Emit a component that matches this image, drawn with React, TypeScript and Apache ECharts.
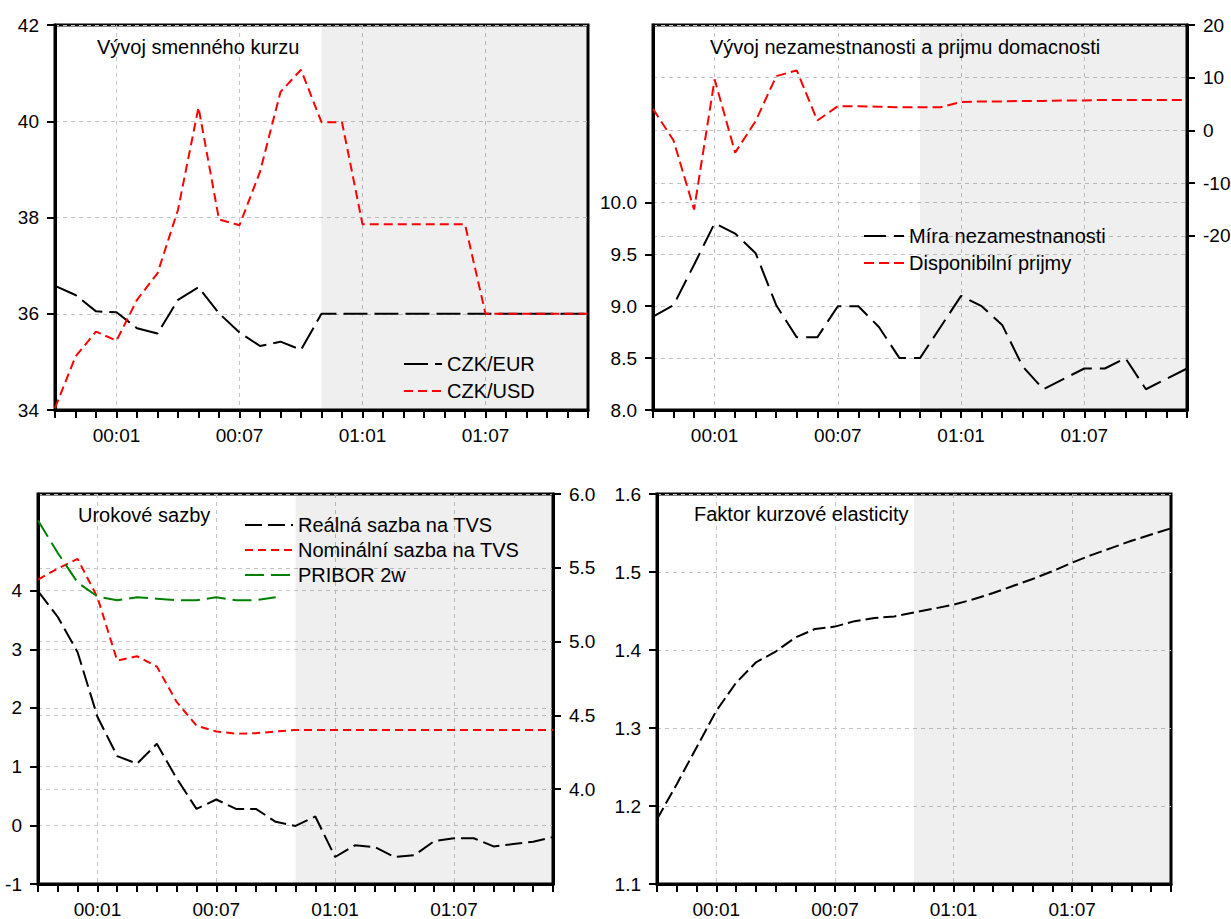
import React, { useEffect, useRef } from 'react';
import * as echarts from 'echarts';

// ---------- data ----------
const months = [
  '99:10', '99:11', '99:12',
  '00:01', '00:02', '00:03', '00:04', '00:05', '00:06', '00:07', '00:08', '00:09', '00:10', '00:11', '00:12',
  '01:01', '01:02', '01:03', '01:04', '01:05', '01:06', '01:07', '01:08', '01:09', '01:10', '01:11', '01:12',
];
const forecastStart = '00:11';
const forecastEnd = '01:12';

// panel 1: exchange rate
const czkEur = [36.58, 36.39, 36.05, 36.03, 35.70, 35.59, 36.29, 36.55, 36.01, 35.61, 35.33, 35.42, 35.25, 36.0,
  36.0, 36.0, 36.0, 36.0, 36.0, 36.0, 36.0, 36.0, 36.0, 36.0, 36.0, 36.0, 36.0];
const czkUsd = [34.04, 35.11, 35.63, 35.44, 36.29, 36.84, 38.16, 40.29, 37.96, 37.84, 38.95, 40.61, 41.07, 39.98,
  39.98, 37.86, 37.86, 37.86, 37.86, 37.86, 37.86, 36.0, 36.0, 36.0, 36.0, 36.0, 36.0];

// panel 2: unemployment and income
const unemployment = [8.90, 9.01, 9.40, 9.80, 9.70, 9.51, 9.01, 8.70, 8.70, 9.00, 9.00, 8.80, 8.50, 8.50,
  8.80, 9.10, 9.00, 8.82, 8.42, 8.20, 8.30, 8.40, 8.40, 8.50, 8.20, 8.30, 8.40];
const income = [4.1, -1.9, -15.0, 9.7, -4.2, 1.8, 10.3, 11.4, 1.9, 4.6, 4.6, 4.5, 4.4, 4.4,
  4.4, 5.4, 5.5, 5.5, 5.6, 5.6, 5.7, 5.7, 5.8, 5.8, 5.8, 5.8, 5.8];

// panel 3: interest rates
const realRate = [3.99, 3.55, 2.95, 1.85, 1.18, 1.05, 1.39, 0.80, 0.28, 0.44, 0.28, 0.28, 0.06, -0.01,
  0.15, -0.54, -0.34, -0.37, -0.54, -0.51, -0.27, -0.22, -0.22, -0.36, -0.32, -0.28, -0.20];
const nominalRate = [5.42, 5.495, 5.56, 5.30, 4.87, 4.90, 4.83, 4.59, 4.43, 4.39, 4.375, 4.378, 4.39, 4.40,
  4.40, 4.40, 4.40, 4.40, 4.40, 4.40, 4.40, 4.40, 4.40, 4.40, 4.40, 4.40, 4.40];
const pribor2w = [5.82, 5.60, 5.40, 5.305, 5.28, 5.30, 5.29, 5.28, 5.28, 5.30, 5.28, 5.28, 5.30, null,
  null, null, null, null, null, null, null, null, null, null, null, null, null];

// panel 4: elasticity factor
const elasticity = [1.183, 1.228, 1.275, 1.322, 1.358, 1.384, 1.398, 1.416, 1.427, 1.430, 1.437, 1.441, 1.443, 1.448,
  1.453, 1.458, 1.465, 1.473, 1.482, 1.491, 1.501, 1.512, 1.522, 1.531, 1.540, 1.548, 1.556];

// tick values
const p1Ticks = [34, 36, 38, 40, 42];
const p2LeftTicks = [8, 8.5, 9, 9.5, 10];
const p2RightTicks = [-20, -10, 0, 10, 20];
const p3LeftTicks = [-1, 0, 1, 2, 3, 4];
const p3RightTicks = [4, 4.5, 5, 5.5, 6];
const p4Ticks = [1.1, 1.2, 1.3, 1.4, 1.5, 1.6];

// texts
const titles = [
  'Vývoj smenného kurzu',
  'Vývoj nezamestnanosti a prijmu domacnosti',
  'Urokové sazby',
  'Faktor kurzové elasticity',
];

// ---------- styles ----------
const FONT = '"Liberation Sans", Arial, Helvetica, sans-serif';
const GRID_LINE = { color: '#c4c4c4', type: [4, 4] as any, width: 1 };
const shade = {
  silent: true,
  itemStyle: { color: 'rgba(0,0,0,0.062)' },
  data: [[{ xAxis: forecastStart }, { xAxis: forecastEnd }]],
};

const labelEvery = (i: number) => i % 6 === 3;

function xAxisFor(gridIndex: number) {
  return {
    type: 'category',
    gridIndex,
    data: months,
    boundaryGap: false,
    axisLine: { show: true, onZero: false, lineStyle: { color: '#000', width: 3 } },
    axisTick: { show: true, interval: 0, length: 8, lineStyle: { color: '#000', width: 2 } },
    axisLabel: { interval: labelEvery, margin: 16, fontSize: 19, color: '#000', fontFamily: FONT },
    splitLine: { show: true, interval: labelEvery, lineStyle: GRID_LINE },
  };
}

function yAxisFor(gridIndex: number, position: string, min: number, max: number, ticks: number[], decimals: number) {
  return {
    type: 'value',
    gridIndex,
    position,
    min,
    max,
    axisLine: { show: true, onZero: false, lineStyle: { color: '#000', width: 3 } },
    axisTick: { show: true, length: 8, customValues: ticks, lineStyle: { color: '#000', width: 2 } },
    axisLabel: {
      customValues: ticks,
      margin: 16,
      fontSize: 19,
      color: '#000',
      fontFamily: FONT,
      formatter: (v: number) => v.toFixed(decimals),
    },
    splitLine: { show: true, lineStyle: GRID_LINE },
  };
}

function gridAt(left: number, top: number, width: number, height: number) {
  return {
    left, top, width, height,
    show: true,
    borderColor: '#000',
    borderWidth: 3,
    backgroundColor: 'transparent',
    containLabel: false,
    outerBoundsMode: 'none',
  };
}

function lineSeries(name: string, xAxisIndex: number, yAxisIndex: number, data: (number | null)[], color: string, dash: number[], extra: any = {}) {
  return {
    type: 'line',
    name,
    xAxisIndex,
    yAxisIndex,
    data,
    color,
    symbol: 'none',
    showSymbol: false,
    connectNulls: false,
    lineStyle: { color, width: 2, type: dash },
    z: 3,
    ...extra,
  };
}

function legendAt(left: number, top: number, itemWidth: number, itemGap: number, names: string[]) {
  return {
    orient: 'vertical',
    left,
    top,
    padding: 0,
    itemWidth,
    itemHeight: 10,
    itemGap,
    selectedMode: false,
    data: names,
    itemStyle: { opacity: 0 },
    textStyle: { fontSize: 20, lineHeight: 20, color: '#000', fontFamily: FONT },
  };
}

function titleAt(text: string, left: number, top: number) {
  return {
    text,
    left,
    top,
    padding: 0,
    textStyle: { fontSize: 20, lineHeight: 20, fontWeight: 'normal', color: '#000', fontFamily: FONT },
  };
}

export default function App() {
  const ref = useRef<HTMLDivElement>(null);

  useEffect(() => {
    if (!ref.current) return;
    const chart = echarts.init(ref.current, null, { renderer: 'svg' });
    const option: any = {
      animation: false,
      backgroundColor: '#fff',
      textStyle: { fontFamily: FONT },
      title: [
        titleAt(titles[0], 97, 37),
        titleAt(titles[1], 710, 37),
        titleAt(titles[2], 78, 505),
        titleAt(titles[3], 694, 504),
      ],
      legend: [
        legendAt(403, 354, 38, 7, ['CZK/EUR', 'CZK/USD']),
        legendAt(863, 226, 40, 7, ['Míra nezamestnanosti', 'Disponibilní prijmy']),
        legendAt(244, 515, 48, 5, ['Reálná sazba na TVS', 'Nominální sazba na TVS', 'PRIBOR 2w']),
      ],
      grid: [
        gridAt(55, 25, 533, 385),
        gridAt(653, 25, 534, 385),
        gridAt(38, 494, 515, 390),
        gridAt(657, 494, 514, 390),
      ],
      xAxis: [xAxisFor(0), xAxisFor(1), xAxisFor(2), xAxisFor(3)],
      yAxis: [
        yAxisFor(0, 'left', 34, 42, p1Ticks, 0),
        yAxisFor(1, 'left', 8, 11.71, p2LeftTicks, 1),
        yAxisFor(1, 'right', -53, 20, p2RightTicks, 0),
        yAxisFor(2, 'left', -1, 5.646, p3LeftTicks, 0),
        yAxisFor(2, 'right', 3.356, 6.0, p3RightTicks, 1),
        yAxisFor(3, 'left', 1.1, 1.6, p4Ticks, 1),
      ],
      series: [
        lineSeries('CZK/EUR', 0, 0, czkEur, '#000000', [24, 7], { markArea: shade }),
        lineSeries('CZK/USD', 0, 0, czkUsd, '#ff0000', [9, 5]),
        lineSeries('Míra nezamestnanosti', 1, 1, unemployment, '#000000', [22, 8], { markArea: shade }),
        lineSeries('Disponibilní prijmy', 1, 2, income, '#ff0000', [10, 5]),
        lineSeries('Reálná sazba na TVS', 2, 3, realRate, '#000000', [17, 6], { markArea: shade }),
        lineSeries('Nominální sazba na TVS', 2, 4, nominalRate, '#ff0000', [8, 5]),
        lineSeries('PRIBOR 2w', 2, 4, pribor2w, '#008000', [19, 7]),
        lineSeries('Faktor kurzové elasticity', 3, 5, elasticity, '#000000', [13, 5], { markArea: shade }),
      ],
    };
    chart.setOption(option);
    return () => chart.dispose();
  }, []);

  return (
    <div
      ref={ref}
      style={{ position: 'absolute', left: 0, top: 0, width: 1231, height: 919, background: '#fff' }}
    />
  );
}
